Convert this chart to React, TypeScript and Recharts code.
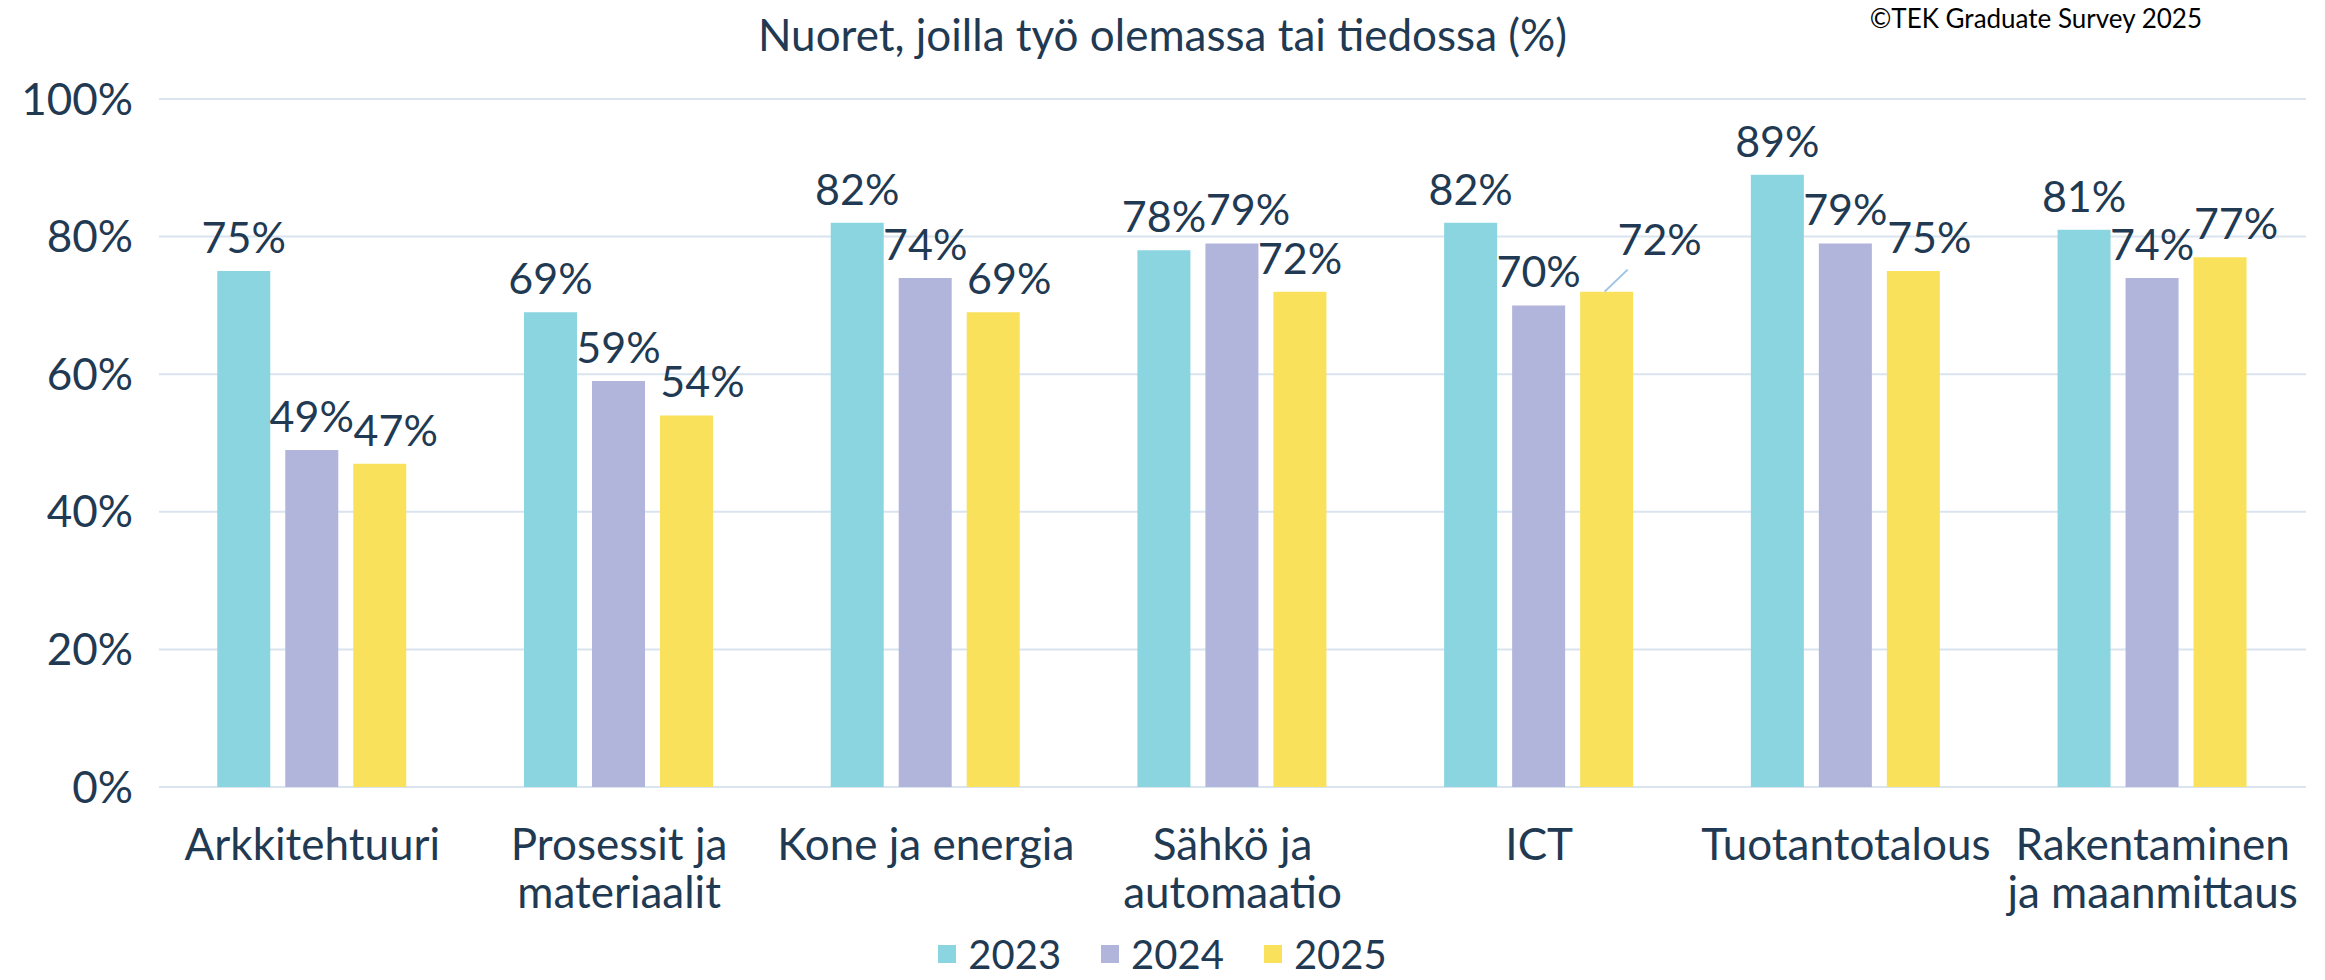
import React from "react";
import {
  BarChart,
  Bar,
  XAxis,
  YAxis,
  CartesianGrid,
  Legend,
  LabelList,
} from "recharts";

const categories = [
  "Arkkitehtuuri",
  "Prosessit ja\nmateriaalit",
  "Kone ja energia",
  "Sähkö ja\nautomaatio",
  "ICT",
  "Tuotantotalous",
  "Rakentaminen\nja maanmittaus",
];
const years = ["2023", "2024", "2025"];
const values2023 = [75, 69, 82, 78, 82, 89, 81];
const values2024 = [49, 59, 74, 79, 70, 79, 74];
const values2025 = [47, 54, 69, 72, 72, 75, 77];
const yTicks = [0, 20, 40, 60, 80, 100];
const seriesValues = [values2023, values2024, values2025];

const COLORS = ["#8AD5E0", "#B1B4DB", "#F9E15C"];
const TEXT = "#1F3A52";
const FONT = "Lato, 'Open Sans', sans-serif";

const data = categories.map((name, i) => ({
  name,
  y2023: values2023[i],
  y2024: values2024[i],
  y2025: values2025[i],
}));

const CategoryTick = ({ x, y, payload }: any) => {
  const lines = String(payload.value).split("\n");
  return (
    <text x={x} y={y} textAnchor="middle" fill={TEXT} fontSize={44} fontFamily={FONT}>
      {lines.map((l, i) => (
        <tspan key={i} x={x} dy={i === 0 ? 71 : 48}>
          {l}
        </tspan>
      ))}
    </text>
  );
};

// push a label right when it would collide with the label of the previous bar
const LABEL_W = 84;
const BAR_STEP = 68;
const labelShift = (s: number, index: number): number => {
  if (s === 0) return 0;
  const prevShift = labelShift(s - 1, index);
  const diff = Math.abs(seriesValues[s][index] - seriesValues[s - 1][index]);
  if (diff >= 6) return 0;
  return Math.max(0, prevShift + LABEL_W - BAR_STEP);
};

const makeLabel = (s: number) => (props: any) => {
  const { x, y, width, value, index } = props;
  const cx = x + width / 2;
  // ICT 2025 label is pushed aside with a leader line
  if (s === 2 && categories[index] === "ICT") {
    return (
      <g>
        <line x1={cx - 2} y1={y} x2={cx + 21} y2={y - 22} stroke="#9DC3E6" strokeWidth={2} />
        <text x={cx + 53} y={y - 37} textAnchor="middle" fill={TEXT} fontSize={43} fontFamily={FONT}>
          {value}%
        </text>
      </g>
    );
  }
  return (
    <text
      x={cx + labelShift(s, index)}
      y={y - 18}
      textAnchor="middle"
      fill={TEXT}
      fontSize={43}
      fontFamily={FONT}
    >
      {value}%
    </text>
  );
};

const LegendContent = () => (
  <div style={{ display: "flex", justifyContent: "center", gap: 40, fontFamily: FONT }}>
    {years.map((yr, i) => (
      <div key={yr} style={{ display: "flex", alignItems: "center", gap: 12 }}>
        <div style={{ width: 18, height: 18, background: COLORS[i] }} />
        <span style={{ fontSize: 40, color: TEXT, lineHeight: "40px" }}>{yr}</span>
      </div>
    ))}
  </div>
);

export default function App() {
  return (
    <div
      style={{
        position: "absolute",
        left: 0,
        top: 0,
        width: 2325,
        height: 980,
        background: "#fff",
        fontFamily: FONT,
        overflow: "hidden",
      }}
    >
      <div
        style={{
          position: "absolute",
          left: 0,
          width: 2325,
          top: 8,
          textAlign: "center",
          fontSize: 44,
          color: TEXT,
          lineHeight: "52px",
        }}
      >
        Nuoret, joilla työ olemassa tai tiedossa (%)
      </div>
      <div
        style={{
          position: "absolute",
          right: 123,
          top: 2,
          fontSize: 26,
          color: "#000",
          lineHeight: "32px",
          textAlign: "right",
          whiteSpace: "nowrap",
        }}
      >
        ©TEK Graduate Survey 2025
      </div>
      <BarChart
        width={2325}
        height={980}
        data={data}
        margin={{ top: 99, right: 19, left: 0, bottom: 0 }}
        barCategoryGap="19%"
        barGap={15}
      >
        <CartesianGrid vertical={false} stroke="#D9E4EF" strokeWidth={2} />
        <XAxis
          dataKey="name"
          height={193}
          axisLine={false}
          tickLine={false}
          tickSize={0}
          tick={<CategoryTick />}
          interval={0}
        />
        <YAxis
          width={159}
          domain={[0, 100]}
          ticks={yTicks}
          tickFormatter={(v) => `${v}%`}
          axisLine={false}
          tickLine={false}
          tickSize={0}
          tickMargin={26}
          tick={{ fill: TEXT, fontSize: 44, fontFamily: FONT }}
        />
        <Legend
          verticalAlign="middle"
          align="center"
          layout="horizontal"
          wrapperStyle={{ position: "absolute", top: 934, left: 0, width: 2325 }}
          content={<LegendContent />}
        />
        <Bar dataKey="y2023" name="2023" fill={COLORS[0]} isAnimationActive={false}>
          <LabelList dataKey="y2023" content={makeLabel(0)} />
        </Bar>
        <Bar dataKey="y2024" name="2024" fill={COLORS[1]} isAnimationActive={false}>
          <LabelList dataKey="y2024" content={makeLabel(1)} />
        </Bar>
        <Bar dataKey="y2025" name="2025" fill={COLORS[2]} isAnimationActive={false}>
          <LabelList dataKey="y2025" content={makeLabel(2)} />
        </Bar>
      </BarChart>
    </div>
  );
}
